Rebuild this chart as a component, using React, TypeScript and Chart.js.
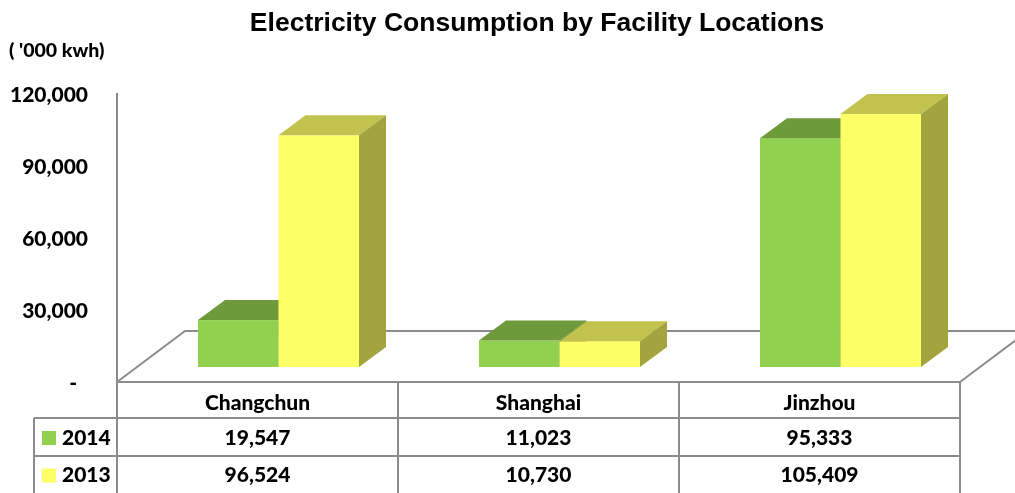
import React, { useEffect, useRef } from "react";
import { Chart, registerables } from "chart.js";

Chart.register(...registerables);

const TITLE = "Electricity Consumption by Facility Locations";
const UNIT_LABEL = "( '000 kwh)";
const CATEGORIES = ["Changchun", "Shanghai", "Jinzhou"];
const SERIES_NAMES = ["2014", "2013"];
const SERIES_2014 = [19547, 11023, 95333];
const SERIES_2013 = [96524, 10730, 105409];
const Y_TICKS = [0, 30000, 60000, 90000, 120000];
const Y_TICK_LABELS = ["-", "30,000", "60,000", "90,000", "120,000"];

const FRONT = ["#92D050", "#FFFF66"];
const TOP = ["#6E9A3B", "#C2C24E"];
const SIDE = ["#5D8431", "#A4A43F"];
const LINE = "#8C8C8C";
const FONT = "Lato, 'Open Sans', sans-serif";

const fmt = (v: number) => v.toLocaleString("en-US");

const threeD = {
  id: "threeD",
  afterDraw(chart: any) {
    const ctx = chart.ctx as CanvasRenderingContext2D;
    const area = chart.chartArea;
    const xs = chart.scales.x;
    const ys = chart.scales.y;
    const FX = 21, FY = -15; // bar front plane offset
    const DX = 27, DY = -20; // bar depth
    const WX = 68, WY = -51; // floor depth
    const zero = ys.getPixelForValue(0);
    const catW = (area.right - area.left) / CATEGORIES.length;

    ctx.save();
    // title
    ctx.fillStyle = "#000";
    ctx.textAlign = "center";
    ctx.textBaseline = "middle";
    ctx.font = "bold 26.5px 'Liberation Sans', Arial, sans-serif";
    ctx.fillText(TITLE, 537, 24);
    ctx.font = `900 19.5px ${FONT}`;
    ctx.textAlign = "left";
    ctx.fillText(UNIT_LABEL, 9, 51);

    // y tick labels
    ctx.font = `900 21px ${FONT}`;
    ctx.textAlign = "right";
    Y_TICKS.forEach((t, i) => {
      const y = ys.getPixelForValue(t);
      const lbl = Y_TICK_LABELS[i];
      if (lbl === "-") {
        ctx.fillText(lbl, 77, y + 1);
      } else {
        ctx.fillText(lbl, 88, y + 1);
      }
    });

    // floor
    ctx.strokeStyle = LINE;
    ctx.lineWidth = 2;
    ctx.beginPath();
    ctx.moveTo(area.left, zero);
    ctx.lineTo(area.left + WX, zero + WY);
    ctx.lineTo(area.right + WX, zero + WY);
    ctx.moveTo(area.right, zero);
    ctx.lineTo(area.right + WX, zero + WY);
    ctx.stroke();

    // bars
    for (let j = 0; j < CATEGORIES.length; j++) {
      for (let i = 0; i < chart.data.datasets.length; i++) {
        const el = chart.getDatasetMeta(i).data[j];
        const p = el.getProps(["x", "y", "base", "width"], true);
        const l = p.x - p.width / 2 + FX;
        const r = p.x + p.width / 2 + FX;
        const t = p.y + FY;
        const b = p.base + FY;
        ctx.fillStyle = FRONT[i];
        ctx.fillRect(l, t, r - l, b - t);
        ctx.fillStyle = TOP[i];
        ctx.beginPath();
        ctx.moveTo(l, t);
        ctx.lineTo(l + DX, t + DY);
        ctx.lineTo(r + DX, t + DY);
        ctx.lineTo(r, t);
        ctx.closePath();
        ctx.fill();
        ctx.fillStyle = SIDE[i];
        ctx.beginPath();
        ctx.moveTo(r, t);
        ctx.lineTo(r + DX, t + DY);
        ctx.lineTo(r + DX, b + DY);
        ctx.lineTo(r, b);
        ctx.closePath();
        ctx.fill();
      }
    }

    // axis + table lines
    const row1 = zero + 36;
    const row2 = zero + 74;
    const row3 = zero + 111;
    const legLeft = 34;
    ctx.strokeStyle = LINE;
    ctx.lineWidth = 2;
    ctx.beginPath();
    ctx.moveTo(area.left, area.top - 1);
    ctx.lineTo(area.left, row3 + 2);
    ctx.moveTo(area.left, zero);
    ctx.lineTo(area.right, zero);
    ctx.moveTo(legLeft, row1);
    ctx.lineTo(area.right, row1);
    ctx.moveTo(legLeft, row2);
    ctx.lineTo(area.right, row2);
    ctx.moveTo(legLeft, row1);
    ctx.lineTo(legLeft, row3 + 2);
    for (let j = 1; j <= CATEGORIES.length; j++) {
      const x = area.left + catW * j;
      ctx.moveTo(x, zero);
      ctx.lineTo(x, row3 + 2);
    }
    ctx.stroke();

    // table text
    ctx.fillStyle = "#000";
    ctx.textAlign = "center";
    ctx.font = `900 21px ${FONT}`;
    const rowsY = [(zero + row1) / 2 + 3, (row1 + row2) / 2 + 1, (row2 + row3) / 2 + 1];
    CATEGORIES.forEach((c, j) => {
      const cx = xs.getPixelForValue(j);
      ctx.fillText(c, cx, rowsY[0]);
      chart.data.datasets.forEach((ds: any, i: number) => {
        ctx.fillText(fmt(ds.data[j]), cx, rowsY[i + 1]);
      });
    });
    // legend cells
    SERIES_NAMES.forEach((n, i) => {
      const y = rowsY[i + 1];
      ctx.fillStyle = FRONT[i];
      ctx.fillRect(42, y - 7, 14, 14);
      ctx.fillStyle = "#000";
      ctx.textAlign = "left";
      ctx.fillText(n, 62, y);
    });
    ctx.restore();
  },
};

export default function App() {
  const ref = useRef<HTMLCanvasElement>(null);
  useEffect(() => {
    if (!ref.current) return;
    const chart = new Chart(ref.current, {
      type: "bar",
      data: {
        labels: CATEGORIES,
        datasets: [
          { label: SERIES_NAMES[0], data: SERIES_2014, backgroundColor: "rgba(0,0,0,0)" },
          { label: SERIES_NAMES[1], data: SERIES_2013, backgroundColor: "rgba(0,0,0,0)" },
        ],
      },
      options: {
        responsive: false,
        animation: false,
        devicePixelRatio: 1,
        layout: { padding: { left: 117, right: 55, top: 94, bottom: 111 } },
        datasets: { bar: { categoryPercentage: 0.573, barPercentage: 1 } },
        scales: {
          x: { display: false, offset: true },
          y: { display: false, min: 0, max: 120000 },
        },
        plugins: { legend: { display: false }, tooltip: { enabled: false }, title: { display: false } },
      },
      plugins: [threeD],
    });
    return () => chart.destroy();
  }, []);
  return (
    <div style={{ position: "fixed", left: 0, top: 0, width: 1015, height: 493, background: "#fff" }}>
      <canvas ref={ref} width={1015} height={493} style={{ width: 1015, height: 493 }} />
    </div>
  );
}
